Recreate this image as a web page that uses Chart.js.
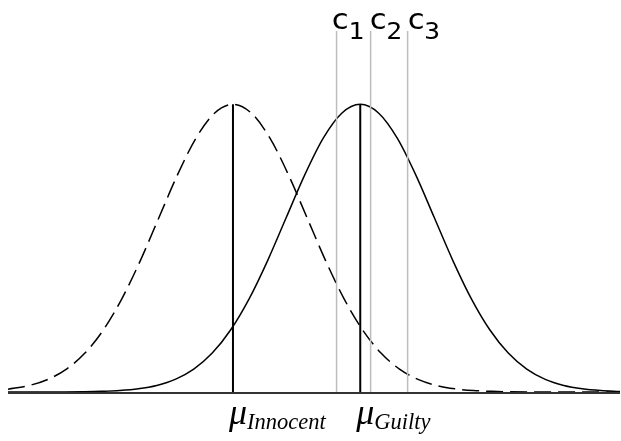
<!DOCTYPE html>
<html lang="en">
<head>
<meta charset="utf-8">
<title>Innocent vs Guilty</title>
<style>
  body { margin: 0; background: #fff; }
  #wrap { width: 621px; height: 441px; }
</style>
</head>
<body>
<div id="wrap"><canvas id="graph"></canvas></div>

<script src="https://cdn.jsdelivr.net/npm/chart.js@4.4.0/dist/chart.umd.min.js"></script>
<script>
// curve heights, relative to the peak
var innocentX = [-3.04, -2.75, -2.5, -2.25, -2, -1.75, -1.5, -1.25, -1, -0.75, -0.5, -0.25, 0,
                 0.25, 0.5, 0.75, 1, 1.25, 1.5, 1.75, 2, 2.25, 2.5, 2.75, 3, 3.25, 3.5, 3.75, 4, 4.5, 5.23];
var innocentY = [0.0099, 0.0228, 0.0439, 0.0796, 0.1353, 0.2163, 0.3247, 0.4578, 0.6065, 0.7548, 0.8825, 0.9692, 1,
                 0.9692, 0.8825, 0.7548, 0.6065, 0.4578, 0.3247, 0.2163, 0.1353, 0.0796, 0.0439, 0.0228, 0.0111, 0.0051, 0.0022, 0.0009, 0.0003, 0.00004, 0];

var guiltyX = [-3.04, -2.28, -2.03, -1.78, -1.53, -1.28, -1.03, -0.78, -0.53, -0.28, -0.03, 0.22, 0.47, 0.72, 0.97, 1.22, 1.47, 1.72,
               1.97, 2.22, 2.47, 2.72, 2.97, 3.22, 3.47, 3.72, 3.97, 4.22, 4.47, 4.72, 4.97, 5.23];
var guiltyY = [0.00001, 0.0003, 0.0009, 0.0022, 0.0051, 0.0111, 0.0228, 0.0439, 0.0796, 0.1353, 0.2163, 0.3247, 0.4578, 0.6065, 0.7548, 0.8825, 0.9692, 1,
               0.9692, 0.8825, 0.7548, 0.6065, 0.4578, 0.3247, 0.2163, 0.1353, 0.0796, 0.0439, 0.0228, 0.0111, 0.0051, 0.0021];

var means = [0, 1.72];
var meanNames = ['Innocent', 'Guilty'];
var cuts = [1.40, 1.86, 2.36];
var cutNames = ['1', '2', '3'];

var xMin = -3.04, xMax = 5.23, yTop = 1.255;

function pts(xs, ys) {
	return xs.map(function (x, i) { return {x: x, y: ys[i]}; });
}

var datasets = [];
cuts.forEach(function (c) {
	datasets.push({
		data: [{x: c, y: 0}, {x: c, y: yTop}],
		borderColor: '#bdbdbd', borderWidth: 1.5
	});
});
means.forEach(function (m) {
	datasets.push({
		data: [{x: m, y: 0}, {x: m, y: 1}],
		borderColor: '#000', borderWidth: 2
	});
});
datasets.push({
	data: pts(innocentX, innocentY),
	borderColor: '#000', borderWidth: 1.5, borderDash: [17, 7],
	cubicInterpolationMode: 'monotone'
});
datasets.push({
	data: pts(guiltyX, guiltyY),
	borderColor: '#000', borderWidth: 1.5,
	cubicInterpolationMode: 'monotone'
});

// baseline and the text labels
var labels = {
	id: 'labels',
	beforeDatasetsDraw: function (chart) {
		var ctx = chart.ctx, a = chart.chartArea;
		var y0 = chart.scales.y.getPixelForValue(0);
		ctx.save();
		ctx.strokeStyle = '#333';
		ctx.lineWidth = 2;
		ctx.beginPath();
		ctx.moveTo(a.left, y0 + 1);
		ctx.lineTo(a.right, y0 + 1);
		ctx.stroke();
		ctx.restore();
	},
	afterDraw: function (chart) {
		var ctx = chart.ctx, xs = chart.scales.x;
		ctx.save();
		ctx.fillStyle = '#000';
		ctx.textAlign = 'left';
		ctx.textBaseline = 'alphabetic';

		// mu labels under the axis
		means.forEach(function (m, i) {
			var px = xs.getPixelForValue(m) - 4;
			ctx.font = 'italic 36px "Liberation Serif"';
			ctx.fillText('\u03bc', px, 424);
			var w = ctx.measureText('\u03bc').width;
			ctx.font = 'italic 22.5px "Liberation Serif"';
			ctx.fillText(meanNames[i], px + w, 429);
		});

		// c1 c2 c3 across the top, one group every 38px
		var x0 = xs.getPixelForValue(cuts[0]) - 6;
		cutNames.forEach(function (n, i) {
			ctx.save();
			ctx.translate(x0 + i * 38, 0);
			ctx.scale(1.12, 1);
			ctx.font = '28px "DejaVu Sans Mono"';
			ctx.fillText('c', 0, 29);
			var w = ctx.measureText('c').width;
			ctx.font = '23.5px "DejaVu Sans Mono"';
			ctx.fillText(n, w - 1, 39);
			ctx.restore();
		});
		ctx.restore();
	}
};

var chart = new Chart(document.getElementById('graph').getContext('2d'), {
	type: 'scatter',
	data: { datasets: datasets },
	options: {
		responsive: true,
		maintainAspectRatio: false,
		animation: false,
		showLine: true,
		elements: { point: { radius: 0, hoverRadius: 0 } },
		layout: { padding: { left: 8, right: 1, top: 31, bottom: 49 } },
		scales: {
			x: { type: 'linear', display: false, min: xMin, max: xMax },
			y: { display: false, min: 0, max: yTop }
		},
		plugins: { legend: { display: false }, tooltip: { enabled: false } }
	},
	plugins: [labels]
});
</script>
</body>
</html>
